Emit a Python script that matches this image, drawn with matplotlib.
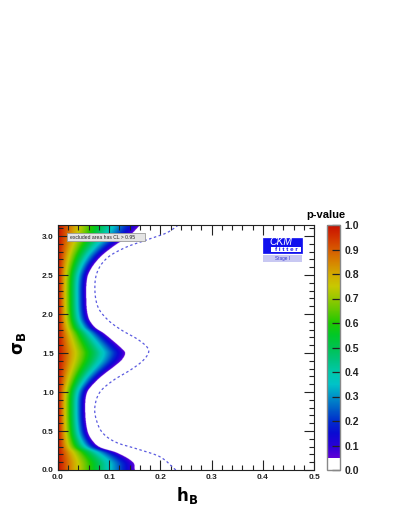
import numpy as np
import matplotlib
matplotlib.use("Agg")
import matplotlib.pyplot as plt
from matplotlib.colors import ListedColormap
from matplotlib.patches import Rectangle
from matplotlib.ticker import MultipleLocator

plt.rcParams['font.family'] = ['Liberation Sans', 'DejaVu Sans']
plt.rcParams['font.weight'] = 'bold'

# p = 0.05 boundary of the coloured region (sigma_B, h_B)
sigma_b = [0.00, 0.10, 0.22, 0.29, 0.385, 0.51, 0.77, 1.00, 1.15, 1.24, 1.32,
           1.41, 1.50, 1.56, 1.67, 1.76, 1.83, 1.96, 2.22, 2.47, 2.60, 2.73,
           2.82, 2.91, 2.99, 3.1416]
h_b = [0.150, 0.146, 0.115, 0.082, 0.066, 0.057, 0.053, 0.057, 0.076, 0.092,
       0.108, 0.124, 0.131, 0.124, 0.105, 0.088, 0.072, 0.059, 0.055, 0.057,
       0.066, 0.082, 0.098, 0.117, 0.137, 0.160]

# dashed contour
sigma_d = [0.00, 0.17, 0.26, 0.35, 0.47, 0.64, 0.81, 1.00, 1.15, 1.28, 1.41,
           1.54, 1.67, 1.79, 1.92, 2.09, 2.35, 2.56, 2.73, 2.86, 2.95, 3.04,
           3.1416]
h_d = [0.230, 0.199, 0.160, 0.115, 0.088, 0.075, 0.072, 0.082, 0.108, 0.141,
       0.167, 0.177, 0.157, 0.125, 0.098, 0.078, 0.072, 0.078, 0.098, 0.134,
       0.173, 0.212, 0.235]

cbar_ticks = [0.0, 0.1, 0.2, 0.3, 0.4, 0.5, 0.6, 0.7, 0.8, 0.9, 1.0]

# colour palette anchors (p-value, rgb 0-255)
pal_pos = [0.05, 0.10, 0.15, 0.20, 0.25, 0.30, 0.35, 0.40, 0.45, 0.50, 0.55,
           0.60, 0.65, 0.70, 0.75, 0.80, 0.85, 0.90, 0.95, 1.00]
pal_rgb = [(95, 0, 215), (40, 0, 215), (10, 10, 210), (0, 45, 205),
           (0, 95, 200), (0, 145, 200), (0, 195, 200), (0, 200, 170),
           (0, 195, 125), (0, 195, 80), (0, 200, 40), (30, 200, 0),
           (95, 200, 0), (150, 200, 0), (200, 200, 0), (210, 170, 0),
           (215, 130, 0), (215, 90, 0), (210, 50, 0), (200, 15, 0)]


def catmull_rom(xq, xs, ys):
    xs = np.asarray(xs, float)
    ys = np.asarray(ys, float)
    n = len(xs)
    i = np.clip(np.searchsorted(xs, xq) - 1, 0, n - 2)
    x1, x2 = xs[i], xs[i + 1]
    y1, y2 = ys[i], ys[i + 1]
    i0 = np.clip(i - 1, 0, n - 1)
    i3 = np.clip(i + 2, 0, n - 1)
    m1 = (y2 - ys[i0]) / (x2 - xs[i0])
    m2 = (ys[i3] - y1) / (xs[i3] - x1)
    dx = x2 - x1
    t = (xq - x1) / dx
    h00 = 2 * t**3 - 3 * t**2 + 1
    h10 = t**3 - 2 * t**2 + t
    h01 = -2 * t**3 + 3 * t**2
    h11 = t**3 - t**2
    return h00 * y1 + h10 * dx * m1 + h01 * y2 + h11 * dx * m2


N = 1000
vals = (np.arange(N) + 0.5) / N
pal = np.array(pal_rgb) / 255.0
cols = np.ones((N, 4))
for k in range(3):
    cols[:, k] = np.interp(vals, pal_pos, pal[:, k])
cols[vals < 0.05, :3] = 1.0
cmap = ListedColormap(cols)

# field built from the read boundary
hh = np.linspace(0, 0.5, 1000)
ss = np.linspace(0, np.pi, 800)
H, S = np.meshgrid(hh, ss)
HB = catmull_rom(ss, sigma_b, h_b)[:, None]
P = np.clip(1 - 0.95 * H / HB, 0, 1)

fig = plt.figure(figsize=(3.99, 5.16), dpi=100)
ax = fig.add_axes([58/399, 46/516, 256/399, 245/516])
im = ax.imshow(P, origin='lower', extent=[0, 0.5, 0, np.pi], aspect='auto',
               cmap=cmap, vmin=0, vmax=1, interpolation='antialiased')
sd_fine = np.linspace(0, np.pi, 300)
ax.plot(catmull_rom(sd_fine, sigma_d, h_d), sd_fine, color='#5a5ae0', lw=0.9,
        ls=(0, (2, 2)))
ax.set_xlim(0, 0.5)
ax.set_ylim(0, np.pi)

ax.xaxis.set_major_locator(MultipleLocator(0.1))
ax.xaxis.set_minor_locator(MultipleLocator(0.02))
ax.yaxis.set_major_locator(MultipleLocator(0.5))
ax.yaxis.set_minor_locator(MultipleLocator(0.1))
ax.tick_params(which='both', direction='in', top=True, right=True,
               colors='#222222', width=0.8)
ax.tick_params(which='major', length=7, labelsize=6, pad=3)
ax.tick_params(which='minor', length=3.5)
for lab in ax.get_xticklabels() + ax.get_yticklabels():
    lab.set_fontweight('bold')
for s in ax.spines.values():
    s.set_color('#222222')
    s.set_linewidth(0.8)

fig.text(187/399, 1 - 496/516, r'$\mathbf{h_B}$', ha='center', va='center', fontsize=12)
fig.text(20/399, 1 - 343/516, r'$\mathbf{\sigma_B}$', ha='center', va='center',
         fontsize=12, rotation=90)

# legend box
ax.add_patch(Rectangle((0.035, 0.935), 0.305, 0.033, transform=ax.transAxes,
                       facecolor='#e4e4e4', edgecolor='#9a9a9a', lw=0.6, zorder=5))
ax.text(0.045, 0.951, 'excluded area has CL > 0.95', transform=ax.transAxes,
        fontsize=3.6, fontweight='normal', color='#222222', va='center', ha='left', zorder=6)

# CKM fitter logo
ax.add_patch(Rectangle((0.800, 0.886), 0.153, 0.061, transform=ax.transAxes,
                       facecolor='#1010ee', edgecolor='#1010ee', lw=0.5, zorder=5))
ax.add_patch(Rectangle((0.832, 0.889), 0.118, 0.020, transform=ax.transAxes,
                       facecolor='white', edgecolor='none', zorder=6))
ax.text(0.872, 0.929, 'CKM', transform=ax.transAxes, fontsize=7.5, style='italic',
        fontweight='normal', color='white', ha='center', va='center', zorder=7)
ax.text(0.892, 0.899, 'f i t t e r', transform=ax.transAxes, fontsize=4.5,
        color='#1010ee', ha='center', va='center', zorder=7)
ax.add_patch(Rectangle((0.800, 0.851), 0.153, 0.026, transform=ax.transAxes,
                       facecolor='#c8c8f2', edgecolor='none', zorder=5))
ax.text(0.876, 0.864, 'Stage I', transform=ax.transAxes, fontsize=3.3,
        fontweight='normal', color='#3030d0', ha='center', va='center', zorder=7)

# colour bar
cax = fig.add_axes([327/399, 46/516, 13/399, 245/516])
cb = fig.colorbar(im, cax=cax, ticks=cbar_ticks)
cb.outline.set_edgecolor('#888888')
cb.outline.set_linewidth(1.0)
cax.tick_params(direction='in', length=6, width=0.9, colors='#222222',
                labelsize=7.5, pad=3)
cax.set_yticklabels(['%.1f' % t for t in cbar_ticks])
for lab in cax.get_yticklabels():
    lab.set_fontweight('bold')
fig.text(326/399, 1 - 215/516, 'p-value', ha='center', va='center',
         fontsize=8, fontweight='bold')

fig.savefig('out.png', dpi=100)
